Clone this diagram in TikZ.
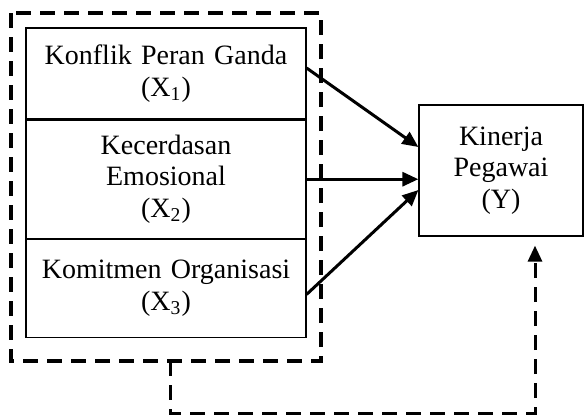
\documentclass[tikz,border=0pt]{standalone}
\usepackage{fontspec}
\setmainfont{Liberation Serif}
\usetikzlibrary{positioning,arrows.meta}

\begin{document}
\begin{tikzpicture}[x=0.5pt, y=-0.5pt, font=\fontsize{14}{15.8}\selectfont,
  var/.style={rectangle, draw, line width=0.6pt, text width=138pt, align=center, minimum width=140pt, inner sep=1pt},
  arr/.style={line width=1.5pt, -{Triangle[length=8pt,width=7pt]}},
  dashy/.style={line width=1.7pt, dash pattern=on 7.5pt off 4.5pt}]
\useasboundingbox (0,0) rectangle (585,419);

\node [var, minimum height=45.5pt] (konflik) at (166,73.5) {Konflik Peran Ganda\\ (X\textsubscript{1})};
\node [var, minimum height=59pt, below=0pt of konflik] (emosi) {Kecerdasan\\ Emosional\\ (X\textsubscript{2})};
\node [var, minimum height=49pt, below=0pt of emosi] (komit) {Komitmen Organisasi\\ (X\textsubscript{3})};
\node [rectangle, draw, line width=0.6pt, align=center, minimum width=82pt, minimum height=65.5pt] (kinerja) at (501,170.5) {Kinerja\\ Pegawai\\ (Y)};

% hubungan parsial
\draw [arr] ([yshift=2.75pt]konflik.east) -- ([yshift=11.75pt]kinerja.west);
\draw [arr] (emosi.east) -- (emosi.east -| kinerja.west);
\draw [arr] ([yshift=-3pt]komit.east) -- ([yshift=-9.75pt]kinerja.west);

% hubungan simultan
\draw [dashy] (11,13) rectangle (321,361);
\coordinate (simultan) at (170,361);
\draw [dashy, arr, shorten >=4.5pt] (simultan) -- (170,413) -| ([xshift=17pt]kinerja.south);

\end{tikzpicture}
\end{document}
